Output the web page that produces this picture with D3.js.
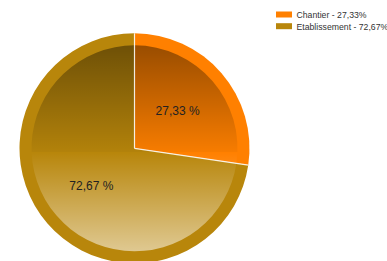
<!DOCTYPE html>
<html>
<head>
<meta charset="utf-8">
<script src="https://cdn.jsdelivr.net/npm/d3@7"></script>
<style>
body{margin:0;background:#fff;}
svg{display:block;font-family:"Liberation Sans",Arial,sans-serif;}
</style>
</head>
<body>
<svg></svg>
<script>
var categories=["Chantier","Etablissement"];
var values=[27.33,72.67];
var colors=["#ff8000","#b8860b"];

var width=387;
var height=261;
var cx=134.5, cy=148.3;
var radius=115;
var inner=103;

var fmt=function(v){return d3.format(".2f")(v).replace(".",",");};

var svg=d3.select("svg")
.attr("width",width)
.attr("height",height);

var defs=svg.append("defs");
var grad=defs.append("linearGradient")
.attr("id","shade")
.attr("gradientUnits","userSpaceOnUse")
.attr("x1",0).attr("x2",0)
.attr("y1",-inner).attr("y2",inner);
grad.append("stop").attr("offset","0%").attr("stop-color","#000").attr("stop-opacity",0.4);
grad.append("stop").attr("offset","52%").attr("stop-color","#000").attr("stop-opacity",0.03);
grad.append("stop").attr("offset","52%").attr("stop-color","#fff").attr("stop-opacity",0);
grad.append("stop").attr("offset","100%").attr("stop-color","#fff").attr("stop-opacity",0.55);

var pie=d3.pie().sort(null).value(function(d){return d;});
var arcs=pie(values);

var outerArc=d3.arc().innerRadius(0).outerRadius(radius);
var innerArc=d3.arc().innerRadius(0).outerRadius(inner);
var labelArc=d3.arc().innerRadius(57).outerRadius(57);

var g=svg.append("g").attr("transform","translate("+cx+","+cy+")");

g.selectAll("path.base")
.data(arcs)
.enter()
.append("path")
.attr("class","base")
.attr("d",outerArc)
.attr("fill",function(d,i){return colors[i];});

g.selectAll("path.shade")
.data(arcs)
.enter()
.append("path")
.attr("class","shade")
.attr("d",innerArc)
.attr("fill","url(#shade)");

// white separators
g.selectAll("line.sep")
.data(arcs)
.enter()
.append("line")
.attr("class","sep")
.attr("x1",0).attr("y1",0)
.attr("x2",function(d){return radius*Math.sin(d.startAngle);})
.attr("y2",function(d){return -radius*Math.cos(d.startAngle);})
.attr("stroke","#fff")
.attr("stroke-opacity",0.85)
.attr("stroke-width",1.2);

g.selectAll("text.lbl")
.data(arcs)
.enter()
.append("text")
.attr("class","lbl")
.attr("x",function(d){return labelArc.centroid(d)[0];})
.attr("y",function(d){return labelArc.centroid(d)[1];})
.attr("dy","0.35em")
.attr("text-anchor","middle")
.attr("font-size","12px")
.attr("fill","#222")
.text(function(d){return fmt(d.value)+" %";});

var legend=svg.append("g").attr("transform","translate(276,11.5)");
var item=legend.selectAll("g")
.data(categories)
.enter()
.append("g")
.attr("transform",function(d,i){return "translate(0,"+(i*11.7)+")";});
item.append("rect")
.attr("width",16)
.attr("height",6)
.attr("fill",function(d,i){return colors[i];});
item.append("text")
.attr("x",20.5)
.attr("y",6.5)
.attr("font-size","8.7px")
.attr("fill","#333")
.text(function(d,i){return d+" - "+fmt(values[i])+"%";});
</script>
</body>
</html>
